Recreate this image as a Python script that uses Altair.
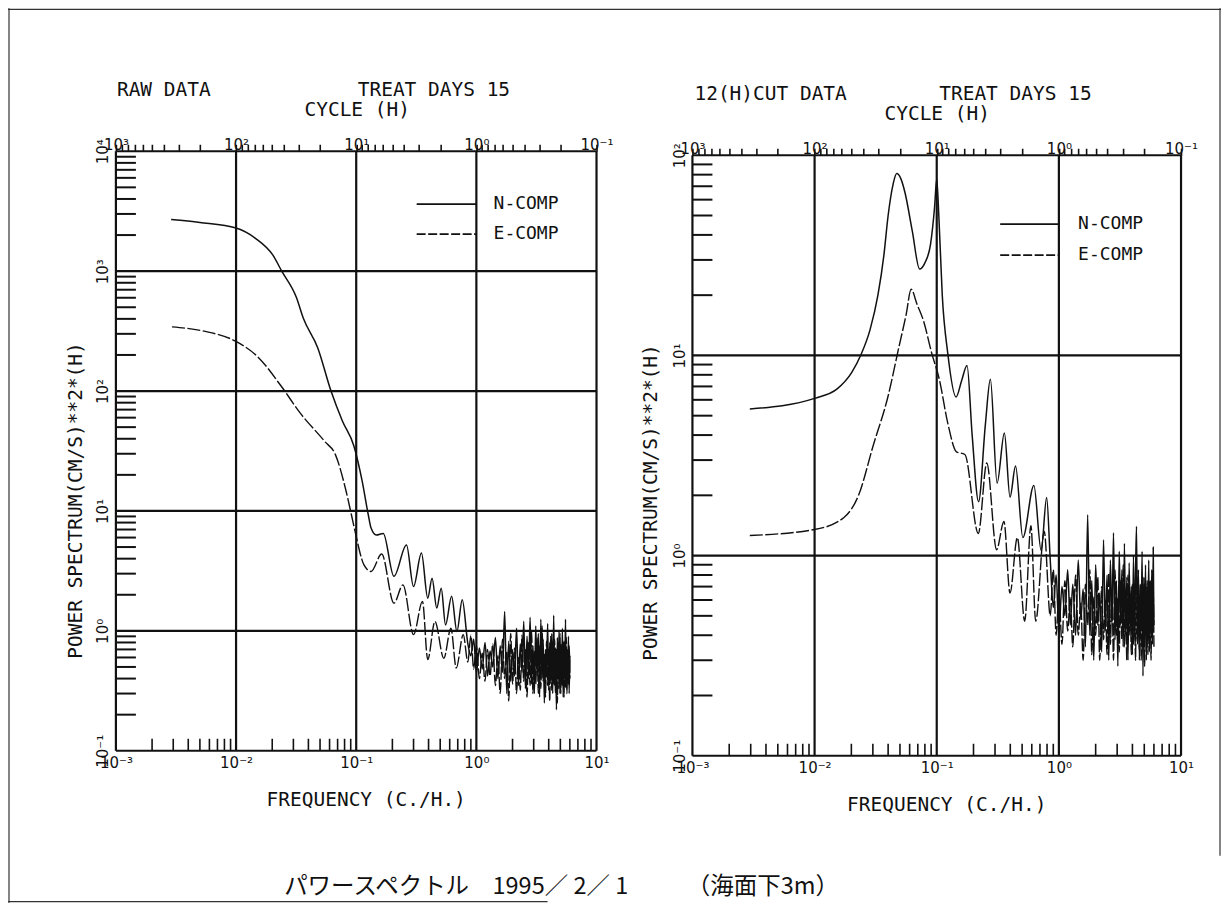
import json
import pandas as pd
import altair as alt

# ---------------- data ----------------
FREQ_DECADES = [0.001, 0.01, 0.1, 1.0, 10.0]
FREQ_LABELS = ["10⁻³", "10⁻²", "10⁻¹", "10⁰", "10¹"]
CYCLE_LABELS = ["10³", "10²", "10¹", "10⁰", "10⁻¹"]
MINOR_MULTIPLIERS = [2, 3, 4, 5, 6, 7, 8, 9]
CYCLE_MULTIPLIERS = [1, 2, 3, 4, 5, 6, 7, 8, 9]
CYCLE_EXPONENTS = [-1, 0, 1, 2]
LEFT_P_DECADES = [0.1, 1.0, 10.0, 100.0, 1000.0, 10000.0]
RIGHT_P_DECADES = [0.1, 1.0, 10.0, 100.0]
P_LABELS = ["10⁻¹", "10⁰", "10¹", "10²", "10³", "10⁴"]

SERIES_NAMES = ["N-COMP", "E-COMP"]
LEFT_TITLE = "RAW DATA"
RIGHT_TITLE = "12(H)CUT DATA"
DAYS_TITLE = "TREAT DAYS 15"
X_TITLE = "FREQUENCY (C./H.)"
TOP_TITLE = "CYCLE (H)"
Y_TITLE = "POWER SPECTRUM(CM/S)**2*(H)"
CAPTION = "パワースペクトル　1995／ 2／ 1　　　（海面下3m）"

# RAW DATA panel, N-COMP (smooth part)
LEFT_N_F = [0.00288, 0.0050, 0.0100, 0.0145, 0.0202, 0.0240, 0.0318, 0.0363, 0.0478, 0.0617,
            0.0769, 0.0955, 0.112, 0.126, 0.133, 0.147, 0.168, 0.206, 0.262, 0.300,
            0.349, 0.394, 0.428, 0.468, 0.510, 0.554, 0.622, 0.689, 0.763]
LEFT_N_P = [2700, 2550, 2290, 1880, 1365, 1000, 603, 405, 230, 100,
            56, 35, 17.8, 9.3, 7.2, 6.3, 6.5, 2.85, 5.2, 2.34,
            4.45, 1.87, 2.75, 1.55, 2.27, 1.12, 1.94, 0.99, 1.82]
# RAW DATA panel, E-COMP (smooth part)
LEFT_E_F = [0.00293, 0.0054, 0.0098, 0.0150, 0.0242, 0.0340, 0.0547, 0.0671, 0.0824, 0.0912,
            0.0977, 0.116, 0.133, 0.163, 0.206, 0.245, 0.300, 0.356, 0.394, 0.452,
            0.536, 0.614, 0.680, 0.778]
LEFT_E_P = [343, 316, 262, 195, 107, 66, 38, 29.5, 14.6, 9.3,
            6.8, 3.55, 3.13, 4.37, 1.70, 2.42, 0.93, 1.76, 0.575, 1.2,
            0.59, 1.05, 0.49, 0.93]
# 12(H)CUT DATA panel, N-COMP (smooth part)
RIGHT_N_F = [0.00295, 0.0100, 0.0153, 0.0201, 0.0240, 0.0285, 0.0330, 0.0370, 0.0400, 0.0440,
             0.0470, 0.0510, 0.0550, 0.0630, 0.0724, 0.0800, 0.0890, 0.0960, 0.1000, 0.1040,
             0.1110, 0.1230, 0.1440, 0.1600, 0.1770, 0.1950, 0.2200, 0.2500, 0.2750, 0.3120,
             0.3580, 0.3980, 0.4420, 0.5070, 0.6240, 0.7160, 0.7940]
RIGHT_N_P = [5.4, 6.1, 6.8, 8.2, 10.1, 13.5, 20, 32, 50, 72,
             81, 76, 65, 42, 27, 29, 36, 55, 76, 50,
             20, 10.3, 6.2, 7.5, 8.9, 4.0, 1.86, 4.5, 7.6, 2.3,
             4.1, 1.96, 2.8, 1.23, 2.24, 1.06, 1.95]
# 12(H)CUT DATA panel, E-COMP (smooth part)
RIGHT_E_F = [0.00295, 0.0100, 0.0174, 0.0229, 0.0302, 0.0398, 0.0490, 0.0562, 0.0617, 0.0690,
             0.0776, 0.0912, 0.1050, 0.1230, 0.1450, 0.1700, 0.2190, 0.2570, 0.3090, 0.3550,
             0.3980, 0.4570, 0.5250, 0.5900, 0.6460, 0.7590]
RIGHT_E_P = [1.26, 1.35, 1.55, 2.0, 3.55, 6.2, 11, 16, 21.4, 18,
             15, 10.2, 7.6, 4.6, 3.3, 3.2, 1.29, 2.9, 1.07, 1.48,
             0.65, 1.23, 0.47, 1.41, 0.47, 1.32]

# high-frequency (noisy) part, shared frequency list
NOISE_F = [0.85, 0.90, 0.95, 1.00, 1.06, 1.12, 1.18, 1.24, 1.30, 1.37,
           1.44, 1.51, 1.58, 1.65, 1.72, 1.79, 1.86, 1.93, 2.00, 2.08,
           2.16, 2.24, 2.32, 2.40, 2.48, 2.56, 2.64, 2.72, 2.80, 2.88,
           2.96, 3.04, 3.12, 3.20, 3.28, 3.36, 3.44, 3.52, 3.60, 3.68,
           3.76, 3.84, 3.92, 4.00, 4.08, 4.16, 4.24, 4.32, 4.40, 4.48,
           4.56, 4.64, 4.72, 4.80, 4.88, 4.96, 5.04, 5.12, 5.20, 5.28,
           5.36, 5.44, 5.52, 5.60, 5.68, 5.76, 5.84, 5.92, 6.00]
LEFT_N_NOISE = [0.78, 0.62, 0.85, 0.45, 0.72, 0.48, 0.80, 0.42, 0.68, 0.50,
                0.88, 0.40, 0.75, 0.45, 1.45, 0.30, 0.82, 0.38, 0.70, 0.42,
                1.05, 0.35, 0.78, 0.45, 1.20, 0.33, 0.90, 0.40, 1.30, 0.36,
                0.75, 0.30, 1.10, 0.42, 0.95, 0.28, 1.25, 0.40, 0.85, 0.25,
                0.70, 0.45, 1.15, 0.32, 0.80, 0.38, 0.95, 0.30, 1.35, 0.35,
                0.72, 0.22, 0.88, 0.40, 1.00, 0.30, 0.78, 0.36, 1.05, 0.28,
                0.82, 0.40, 1.25, 0.33, 0.70, 0.38, 0.90, 0.30, 0.62]
LEFT_E_NOISE = [0.55, 0.92, 0.48, 0.75, 0.40, 0.65, 0.38, 0.70, 0.42, 0.78,
                0.35, 0.62, 0.30, 0.85, 0.40, 0.68, 0.26, 0.95, 0.36, 0.72,
                0.30, 0.60, 0.32, 0.92, 0.38, 0.70, 0.28, 0.80, 0.35, 1.00,
                0.30, 0.68, 0.36, 0.88, 0.30, 0.75, 0.33, 1.10, 0.38, 0.65,
                0.28, 0.82, 0.35, 0.70, 0.26, 0.90, 0.32, 0.62, 0.36, 0.85,
                0.30, 0.72, 0.25, 0.78, 0.33, 0.95, 0.30, 0.66, 0.35, 0.80,
                0.28, 0.70, 0.34, 0.88, 0.30, 0.65, 0.36, 0.75, 0.40]
RIGHT_N_NOISE = [0.95, 0.55, 0.80, 0.42, 0.70, 0.50, 0.85, 0.45, 0.72, 0.40,
                 0.95, 0.48, 0.68, 0.35, 1.60, 0.40, 0.75, 0.30, 0.90, 0.45,
                 0.65, 0.33, 1.20, 0.42, 0.80, 0.30, 0.95, 0.45, 1.30, 0.38,
                 0.75, 0.28, 1.05, 0.45, 0.85, 0.35, 1.15, 0.40, 0.78, 0.30,
                 0.92, 0.42, 0.70, 0.32, 1.00, 0.40, 0.80, 1.40, 0.36, 0.85,
                 0.30, 0.72, 0.42, 1.05, 0.25, 0.78, 0.38, 0.90, 0.30, 0.70,
                 0.40, 0.95, 0.33, 0.75, 0.42, 0.85, 0.36, 1.10, 0.45]
RIGHT_E_NOISE = [0.50, 0.85, 0.40, 0.65, 0.36, 0.75, 0.42, 0.62, 0.35, 0.80,
                 0.40, 0.58, 0.30, 0.72, 0.45, 0.85, 0.32, 0.62, 0.40, 0.78,
                 0.30, 0.70, 0.38, 0.60, 0.32, 0.82, 0.36, 0.66, 0.30, 0.85,
                 0.40, 0.62, 0.33, 0.75, 0.38, 0.90, 0.35, 0.65, 0.30, 0.80,
                 0.40, 0.58, 0.32, 0.72, 0.36, 0.65, 0.30, 0.78, 0.38, 0.62,
                 0.34, 0.70, 0.30, 0.60, 0.36, 0.72, 0.28, 0.62, 0.40, 0.75,
                 0.32, 0.60, 0.38, 0.70, 0.30, 0.58, 0.40, 0.66, 0.35]

# ---------------- layout (view pixels = page pixels - 8) ----------------
W, H = 1214, 895
LEFT = dict(x0=108, x1=589, yb=743, yt=143, pmin=0.1, pmax=10000.0, decades=LEFT_P_DECADES,
            ytitle_x=-40, ytitle_y=492, xtitle_x=358, toptitle_x=349,
            title_x=109, title_y=88, days_x=350,
            leg_x0=409, leg_x1=469, leg_y=[196, 226], leg_tx=486)
RIGHT = dict(x0=685, x1=1174, yb=748, yt=147, pmin=0.1, pmax=100.0, decades=RIGHT_P_DECADES,
             ytitle_x=-42, ytitle_y=494, xtitle_x=939, toptitle_x=929.5,
             title_x=687, title_y=92, days_x=932,
             leg_x0=993, leg_x1=1052, leg_y=[216, 247], leg_tx=1071)

BLACK = "#111111"
MONO = "DejaVu Sans Mono"
SANS = "DejaVu Sans"
DASH = [13, 2.5]


def fscale(p):
    return alt.Scale(type="log", domain=[0.001, 10.0], range=[p["x0"], p["x1"]], nice=False)


def pscale(p):
    return alt.Scale(type="log", domain=[p["pmin"], p["pmax"]], range=[p["yb"], p["yt"]], nice=False)


def decade_expr(labels, shift):
    arr = json.dumps(labels, ensure_ascii=False)
    lg = "log(datum.value)/LN10"
    return f"abs({lg}-round({lg}))<0.001 ? {arr}[round({lg})+{shift}] : ''"


minor_f = [round(m * d, 6) for d in FREQ_DECADES[:-1] for m in MINOR_MULTIPLIERS]
top_tick_f = sorted({round(1.0 / (m * 10.0 ** e), 8) for e in CYCLE_EXPONENTS for m in CYCLE_MULTIPLIERS} | {0.001})


def panel(p, nf, npow, ef, epow, n_noise, e_noise, title):
    layers = []
    minor_p = [round(m * d, 6) for d in p["decades"][:-1] for m in MINOR_MULTIPLIERS]

    # vertical grid lines (+ bottom axis)
    bottom_axis = alt.Axis(
        orient="bottom", offset=-(H - p["yb"]), values=FREQ_DECADES,
        labelExpr=decade_expr(FREQ_LABELS, 3), ticks=False, tickSize=0, domain=False, grid=False,
        labelFont=SANS, labelFontSize=15, labelColor=BLACK, labelPadding=5, labelFlush=False,
        labelAlign="center", labelOverlap=False,
        title=X_TITLE, titleFont=MONO, titleFontSize=19.5, titleFontWeight="normal", titleColor=BLACK,
        titleX=p["xtitle_x"], titleY=55, titleAlign="center", titleBaseline="alphabetic")
    layers.append(alt.Chart(pd.DataFrame({"f": FREQ_DECADES})).mark_rule(color=BLACK, strokeWidth=2.2).encode(
        x=alt.X("f:Q", scale=fscale(p), axis=bottom_axis),
        y=alt.value(p["yt"]), y2=alt.value(p["yb"])))

    # horizontal grid lines (+ left axis)
    n_dec = len(p["decades"])
    left_axis = alt.Axis(
        orient="left", offset=-p["x0"], values=p["decades"],
        labelExpr=decade_expr(P_LABELS[:n_dec], 1), ticks=False, tickSize=0, domain=False, grid=False,
        labelFont=SANS, labelFontSize=15, labelColor=BLACK, labelPadding=5, labelAngle=270,
        labelAlign="center", labelBaseline="bottom", labelFlush=False, labelOverlap=False,
        title=Y_TITLE, titleFont=MONO, titleFontSize=19.5, titleFontWeight="normal", titleColor=BLACK,
        titleAngle=270, titleX=p["ytitle_x"], titleY=p["ytitle_y"], titleAlign="center",
        titleBaseline="middle")
    layers.append(alt.Chart(pd.DataFrame({"p": p["decades"]})).mark_rule(color=BLACK, strokeWidth=2.2).encode(
        y=alt.Y("p:Q", scale=pscale(p), axis=left_axis),
        x=alt.value(p["x0"]), x2=alt.value(p["x1"])))

    # inward minor ticks on left axis
    layers.append(alt.Chart(pd.DataFrame({"p": minor_p})).mark_rule(color=BLACK, strokeWidth=2).encode(
        y=alt.Y("p:Q", scale=pscale(p), axis=None),
        x=alt.value(p["x0"]), x2=alt.value(p["x0"] + 20)))

    # inward minor ticks on bottom axis
    layers.append(alt.Chart(pd.DataFrame({"f": minor_f})).mark_rule(color=BLACK, strokeWidth=1.6).encode(
        x=alt.X("f:Q", scale=fscale(p), axis=None),
        y=alt.value(p["yb"]), y2=alt.value(p["yb"] - 12)))

    # top cycle axis
    top_axis = alt.Axis(
        orient="top", offset=-p["yt"], values=top_tick_f,
        labelExpr=decade_expr(CYCLE_LABELS, 3), ticks=True, tickSize=7, tickWidth=1.6, tickColor=BLACK,
        domain=False, grid=False,
        labelFont=SANS, labelFontSize=15, labelColor=BLACK, labelPadding=-8, labelFlush=False,
        labelAlign="center", labelOverlap=False,
        title=TOP_TITLE, titleFont=MONO, titleFontSize=19.5, titleFontWeight="normal", titleColor=BLACK,
        titleX=p["toptitle_x"], titleY=-36, titleAlign="center", titleBaseline="alphabetic")
    layers.append(alt.Chart(pd.DataFrame({"f": top_tick_f})).mark_point(opacity=0).encode(
        x=alt.X("f:Q", scale=fscale(p), axis=top_axis), y=alt.value(p["yt"])))

    # spectra
    n_df = pd.DataFrame({"f": nf + NOISE_F, "p": npow + n_noise})
    e_df = pd.DataFrame({"f": ef + NOISE_F, "p": epow + e_noise})
    layers.append(alt.Chart(n_df).mark_line(color=BLACK, strokeWidth=1.5, interpolate="monotone").encode(
        x=alt.X("f:Q", scale=fscale(p), axis=None), y=alt.Y("p:Q", scale=pscale(p), axis=None)))
    layers.append(alt.Chart(e_df).mark_line(color=BLACK, strokeWidth=1.4, strokeDash=DASH,
                                              interpolate="monotone").encode(
        x=alt.X("f:Q", scale=fscale(p), axis=None), y=alt.Y("p:Q", scale=pscale(p), axis=None)))

    # legend
    for i, name in enumerate(SERIES_NAMES):
        style = dict(color=BLACK, strokeWidth=1.7)
        if i == 1:
            style["strokeDash"] = [9, 2.5]
        layers.append(alt.Chart(pd.DataFrame({"s": [name]})).mark_rule(**style).encode(
            x=alt.value(p["leg_x0"]), x2=alt.value(p["leg_x1"]), y=alt.value(p["leg_y"][i])))
        layers.append(alt.Chart(pd.DataFrame({"s": [name]})).mark_text(
            font=MONO, fontSize=18, color=BLACK, align="left", baseline="middle").encode(
            text="s:N", x=alt.value(p["leg_tx"]), y=alt.value(p["leg_y"][i])))

    # panel titles
    layers.append(alt.Chart(pd.DataFrame({"s": [title]})).mark_text(
        font=MONO, fontSize=19.5, color=BLACK, align="left", baseline="alphabetic").encode(
        text="s:N", x=alt.value(p["title_x"]), y=alt.value(p["title_y"])))
    layers.append(alt.Chart(pd.DataFrame({"s": [DAYS_TITLE]})).mark_text(
        font=MONO, fontSize=19.5, color=BLACK, align="left", baseline="alphabetic").encode(
        text="s:N", x=alt.value(p["days_x"]), y=alt.value(p["title_y"])))
    return layers


layers = []
layers += panel(LEFT, LEFT_N_F, LEFT_N_P, LEFT_E_F, LEFT_E_P, LEFT_N_NOISE, LEFT_E_NOISE, LEFT_TITLE)
layers += panel(RIGHT, RIGHT_N_F, RIGHT_N_P, RIGHT_E_F, RIGHT_E_P, RIGHT_N_NOISE, RIGHT_E_NOISE, RIGHT_TITLE)

# caption
layers.append(alt.Chart(pd.DataFrame({"s": [CAPTION]})).mark_text(
    font="Noto Sans CJK JP", fontSize=23.5, color=BLACK, align="center", baseline="alphabetic").encode(
    text="s:N", x=alt.value(554), y=alt.value(886)))

# page frame
layers.append(alt.Chart(pd.DataFrame({"k": ["top"]})).mark_rule(color="#333333", strokeWidth=1.2).encode(
    x=alt.value(0), x2=alt.value(1214), y=alt.value(1)))
layers.append(alt.Chart(pd.DataFrame({"k": ["left"]})).mark_rule(color="#333333", strokeWidth=1.2).encode(
    x=alt.value(1), y=alt.value(0), y2=alt.value(895)))
layers.append(alt.Chart(pd.DataFrame({"k": ["bottom"]})).mark_rule(color="#333333", strokeWidth=1.2).encode(
    x=alt.value(0), x2=alt.value(540), y=alt.value(894)))
layers.append(alt.Chart(pd.DataFrame({"k": ["right"]})).mark_rule(color="#333333", strokeWidth=1.2).encode(
    x=alt.value(1213), y=alt.value(0), y2=alt.value(848)))

chart = alt.layer(*layers).resolve_scale(x="independent", y="independent").properties(
    width=W, height=H, padding=0, autosize=alt.AutoSizeParams(type="none"), background="white"
).configure_view(stroke=None)

chart.save("out.html", embed_options={"renderer": "svg", "actions": False})
